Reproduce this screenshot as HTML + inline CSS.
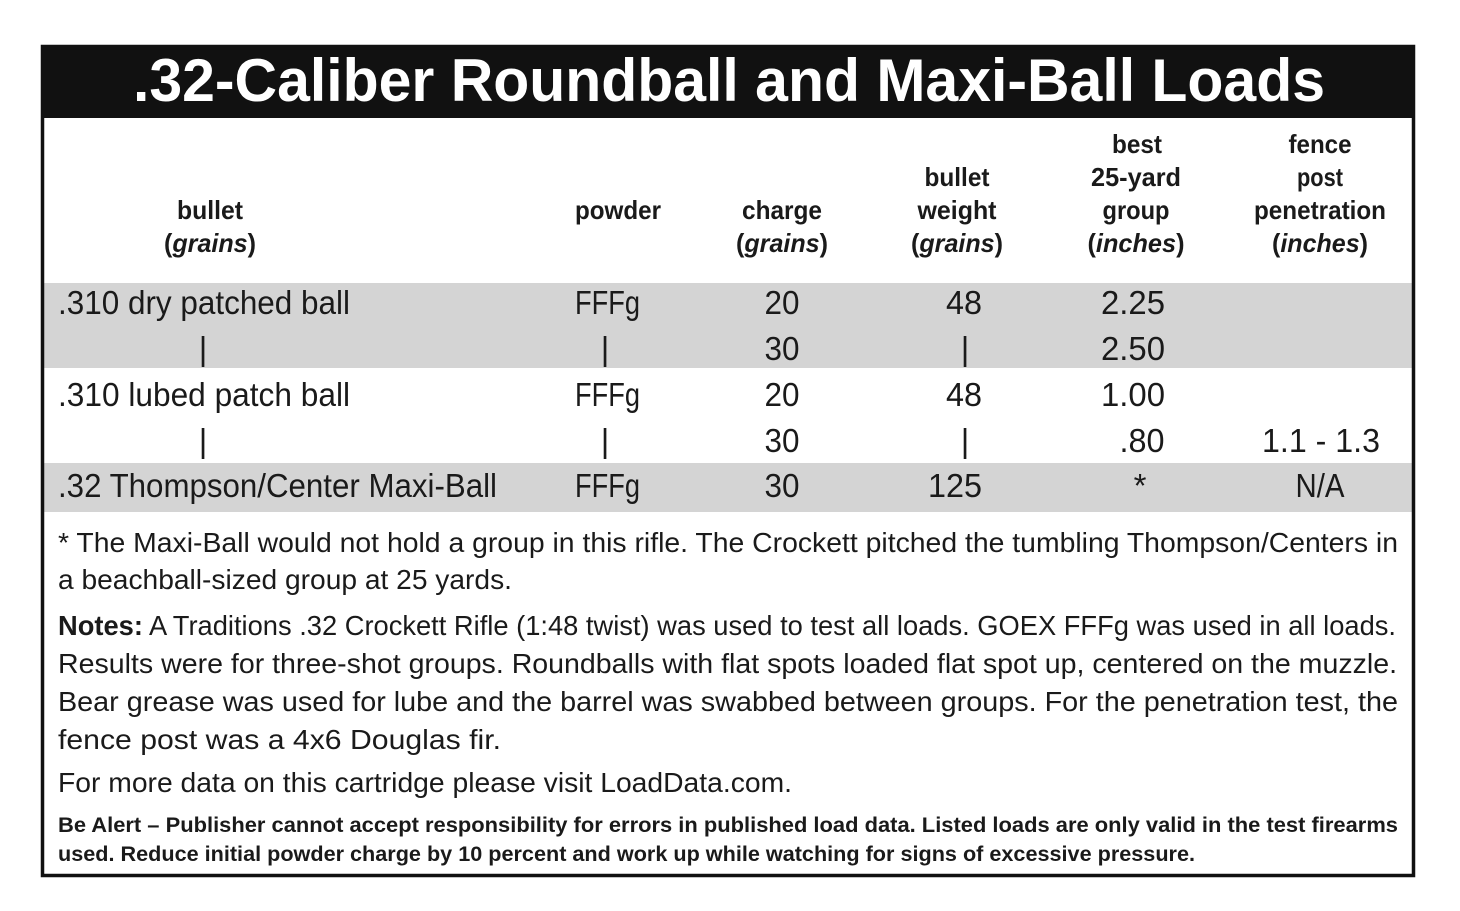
<!DOCTYPE html>
<html><head><meta charset="utf-8"><style>html,body{margin:0;padding:0;background:#fff;}svg{display:block}</style></head>
<body>
<svg width="1460" height="911" viewBox="0 0 1460 911" xmlns="http://www.w3.org/2000/svg" font-family="Liberation Sans, Arial, sans-serif" fill="#1a1a1a">
<rect x="0" y="0" width="1460" height="911" fill="#fff"/>
<rect x="44" y="283" width="1368" height="85" fill="#d4d4d4"/>
<rect x="44" y="463" width="1368" height="49" fill="#d4d4d4"/>
<rect x="42.5" y="46.5" width="1371" height="829" fill="none" stroke="#111" stroke-width="3.5"/>
<rect x="41" y="45" width="1374" height="73" fill="#111"/>
<text x="729" y="101" text-anchor="middle" font-size="60" font-weight="bold" fill="#fff" textLength="1192" lengthAdjust="spacingAndGlyphs">.32-Caliber Roundball and Maxi-Ball Loads</text>
<g font-size="26" font-weight="bold" text-anchor="middle">
<text x="210" y="219" textLength="66" lengthAdjust="spacingAndGlyphs">bullet</text>
<text x="210" y="252" textLength="92" lengthAdjust="spacingAndGlyphs">(<tspan font-style="italic">grains</tspan>)</text>
<text x="618" y="219" textLength="86" lengthAdjust="spacingAndGlyphs">powder</text>
<text x="782" y="219" textLength="80" lengthAdjust="spacingAndGlyphs">charge</text>
<text x="782" y="252" textLength="92" lengthAdjust="spacingAndGlyphs">(<tspan font-style="italic">grains</tspan>)</text>
<text x="957" y="186" textLength="65" lengthAdjust="spacingAndGlyphs">bullet</text>
<text x="957" y="219" textLength="79" lengthAdjust="spacingAndGlyphs">weight</text>
<text x="957" y="252" textLength="92" lengthAdjust="spacingAndGlyphs">(<tspan font-style="italic">grains</tspan>)</text>
<text x="1137" y="153" textLength="50" lengthAdjust="spacingAndGlyphs">best</text>
<text x="1136" y="186" textLength="90" lengthAdjust="spacingAndGlyphs">25-yard</text>
<text x="1136" y="219" textLength="67" lengthAdjust="spacingAndGlyphs">group</text>
<text x="1136" y="252" textLength="97" lengthAdjust="spacingAndGlyphs">(<tspan font-style="italic">inches</tspan>)</text>
<text x="1320" y="153" textLength="63" lengthAdjust="spacingAndGlyphs">fence</text>
<text x="1320" y="186" textLength="46" lengthAdjust="spacingAndGlyphs">post</text>
<text x="1320" y="219" textLength="132" lengthAdjust="spacingAndGlyphs">penetration</text>
<text x="1320" y="252" textLength="96" lengthAdjust="spacingAndGlyphs">(<tspan font-style="italic">inches</tspan>)</text>
</g>
<g font-size="33">
<text x="58" y="314" textLength="292" lengthAdjust="spacingAndGlyphs">.310 dry patched ball</text>
<text x="58" y="406" textLength="292" lengthAdjust="spacingAndGlyphs">.310 lubed patch ball</text>
<text x="58" y="497" textLength="439" lengthAdjust="spacingAndGlyphs">.32 Thompson/Center Maxi-Ball</text>
<text x="575" y="314" textLength="65" lengthAdjust="spacingAndGlyphs">FFFg</text>
<text x="575" y="406" textLength="65" lengthAdjust="spacingAndGlyphs">FFFg</text>
<text x="575" y="497" textLength="65" lengthAdjust="spacingAndGlyphs">FFFg</text>
</g>
<g font-size="33" text-anchor="middle">
<text x="203" y="360">|</text><text x="605" y="360">|</text><text x="965" y="360">|</text>
<text x="203" y="452">|</text><text x="605" y="452">|</text><text x="965" y="452">|</text>
<text x="782" y="314" textLength="35" lengthAdjust="spacingAndGlyphs">20</text><text x="782" y="360" textLength="35" lengthAdjust="spacingAndGlyphs">30</text><text x="782" y="406" textLength="35" lengthAdjust="spacingAndGlyphs">20</text><text x="782" y="452" textLength="35" lengthAdjust="spacingAndGlyphs">30</text><text x="782" y="497" textLength="35" lengthAdjust="spacingAndGlyphs">30</text>
<text x="964" y="314" textLength="36" lengthAdjust="spacingAndGlyphs">48</text><text x="964" y="406" textLength="36" lengthAdjust="spacingAndGlyphs">48</text><text x="955" y="497" textLength="54" lengthAdjust="spacingAndGlyphs">125</text>
<text x="1133" y="314" textLength="64" lengthAdjust="spacingAndGlyphs">2.25</text><text x="1133" y="360" textLength="64" lengthAdjust="spacingAndGlyphs">2.50</text><text x="1133" y="406" textLength="64" lengthAdjust="spacingAndGlyphs">1.00</text><text x="1142" y="452" textLength="45" lengthAdjust="spacingAndGlyphs">.80</text><text x="1140" y="497">*</text>
<text x="1321" y="452" textLength="118" lengthAdjust="spacingAndGlyphs">1.1 - 1.3</text><text x="1320" y="497" textLength="49" lengthAdjust="spacingAndGlyphs">N/A</text>
</g>
<g font-size="28">
<text x="58" y="552" textLength="1340" lengthAdjust="spacingAndGlyphs">* The Maxi-Ball would not hold a group in this rifle. The Crockett pitched the tumbling Thompson/Centers in</text>
<text x="58" y="589" textLength="454" lengthAdjust="spacingAndGlyphs">a beachball-sized group at 25 yards.</text>
<text x="58" y="635" textLength="1338" lengthAdjust="spacingAndGlyphs"><tspan font-weight="bold">Notes:</tspan> A Traditions .32 Crockett Rifle (1:48 twist) was used to test all loads. GOEX FFFg was used in all loads.</text>
<text x="58" y="673" textLength="1339" lengthAdjust="spacingAndGlyphs">Results were for three-shot groups. Roundballs with flat spots loaded flat spot up, centered on the muzzle.</text>
<text x="58" y="711" textLength="1340" lengthAdjust="spacingAndGlyphs">Bear grease was used for lube and the barrel was swabbed between groups. For the penetration test, the</text>
<text x="58" y="749" textLength="443" lengthAdjust="spacingAndGlyphs">fence post was a 4x6 Douglas fir.</text>
<text x="58" y="792" textLength="734" lengthAdjust="spacingAndGlyphs">For more data on this cartridge please visit LoadData.com.</text>
</g>
<g font-size="21" font-weight="bold">
<text x="58" y="832" textLength="1340" lengthAdjust="spacingAndGlyphs">Be Alert – Publisher cannot accept responsibility for errors in published load data. Listed loads are only valid in the test firearms</text>
<text x="58" y="861" textLength="1137" lengthAdjust="spacingAndGlyphs">used. Reduce initial powder charge by 10 percent and work up while watching for signs of excessive pressure.</text>
</g>
</svg>
</body></html>
